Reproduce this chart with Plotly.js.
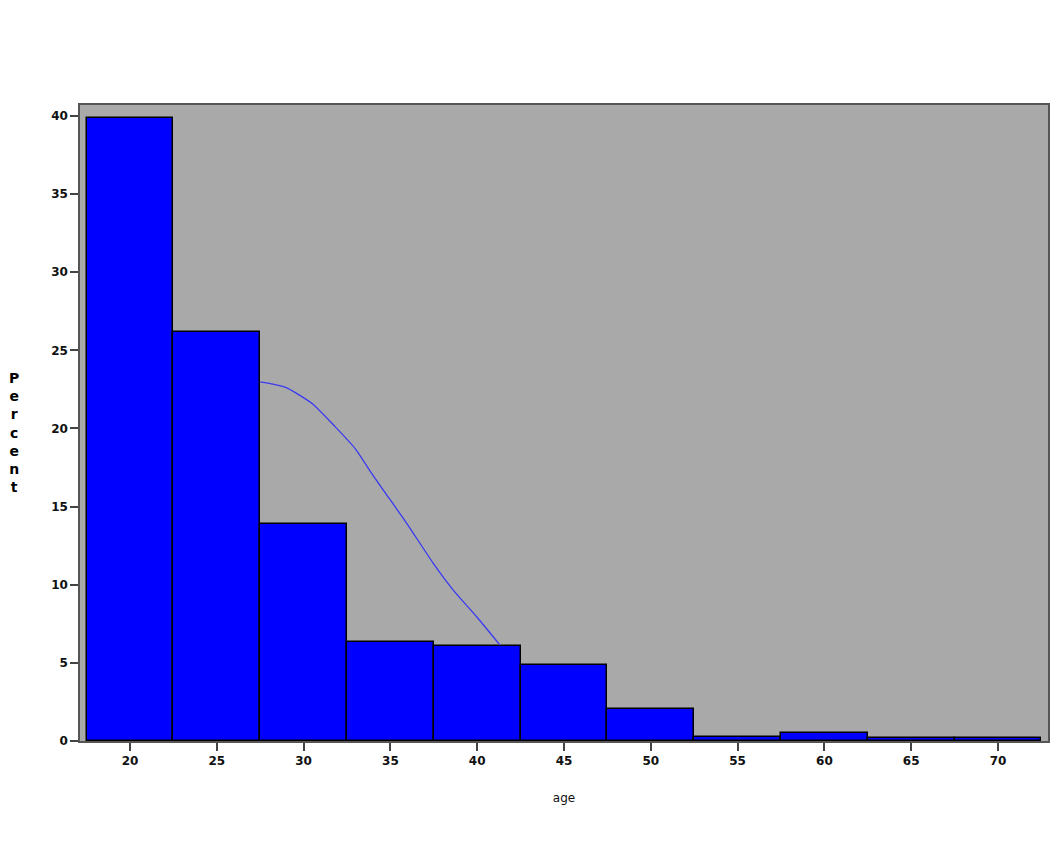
<!DOCTYPE html>
<html>
<head>
<meta charset="utf-8">
<script src="https://cdn.plot.ly/plotly-3.0.1.min.js"></script>
<style>html,body{margin:0;padding:0;background:#fff;}#chart{width:1061px;height:865px;}</style>
</head>
<body>
<div id="chart"></div>
<script>
const ageMid = [20, 25, 30, 35, 40, 45, 50, 55, 60, 65, 70];
const percent = [39.9, 26.2, 13.9, 6.34, 6.08, 4.86, 2.05, 0.25, 0.53, 0.2, 0.2];
const curveAge = [27.5, 28.93, 30.47, 31.81, 32.96, 33.92, 34.59, 35.94, 37.47, 38.62, 39.97, 41.31];
const curvePct = [22.98, 22.64, 21.61, 20.12, 18.73, 17.13, 16.06, 13.93, 11.37, 9.66, 7.95, 6.14];
const xTickVals = [20, 25, 30, 35, 40, 45, 50, 55, 60, 65, 70];
const yTickVals = [0, 5, 10, 15, 20, 25, 30, 35, 40];

const tickFont = {family: 'DejaVu Sans, Liberation Sans, sans-serif', size: 12, color: '#111', weight: 'bold'};

const traces = [
  {
    type: 'bar',
    x: ageMid,
    y: percent,
    width: ageMid.map(() => 5),
    marker: {color: '#0000FF', line: {color: '#000000', width: 1.5}},
    hoverinfo: 'x+y',
    showlegend: false
  },
  {
    type: 'scatter',
    mode: 'lines',
    x: curveAge,
    y: curvePct,
    line: {color: '#3a3af0', width: 1.3, shape: 'spline', smoothing: 0.6},
    showlegend: false
  }
];

const layout = {
  width: 1061,
  height: 865,
  margin: {l: 80, r: 13, t: 105, b: 124},
  paper_bgcolor: '#ffffff',
  plot_bgcolor: '#a9a9a9',
  bargap: 0,
  showlegend: false,
  xaxis: {
    range: [17.12, 72.88],
    tickmode: 'array',
    tickvals: xTickVals,
    ticks: 'outside',
    ticklen: 8,
    tickwidth: 1.5,
    tickcolor: '#444',
    tickfont: tickFont,
    showgrid: false,
    zeroline: false,
    showline: true,
    mirror: true,
    linecolor: '#555',
    linewidth: 1.5,
    title: {text: 'age', font: {family: 'DejaVu Sans, sans-serif', size: 12, color: '#111'}, standoff: 26}
  },
  yaxis: {
    range: [0, 40.7],
    tickmode: 'array',
    tickvals: yTickVals,
    ticks: 'outside',
    ticklen: 8,
    tickwidth: 1.5,
    tickcolor: '#444',
    tickfont: tickFont,
    showgrid: false,
    zeroline: false,
    showline: true,
    mirror: true,
    linecolor: '#555',
    linewidth: 1.5
  },
  annotations: [
    {
      text: 'P<br>e<br>r<br>c<br>e<br>n<br>t',
      xref: 'paper', yref: 'paper',
      x: -0.068, y: 0.485,
      xanchor: 'center', yanchor: 'middle',
      showarrow: false,
      align: 'center',
      font: {family: 'DejaVu Sans, sans-serif', size: 14, color: '#000', weight: 'bold'}
    }
  ]
};

Plotly.newPlot('chart', traces, layout, {displayModeBar: false});
</script>
</body>
</html>
